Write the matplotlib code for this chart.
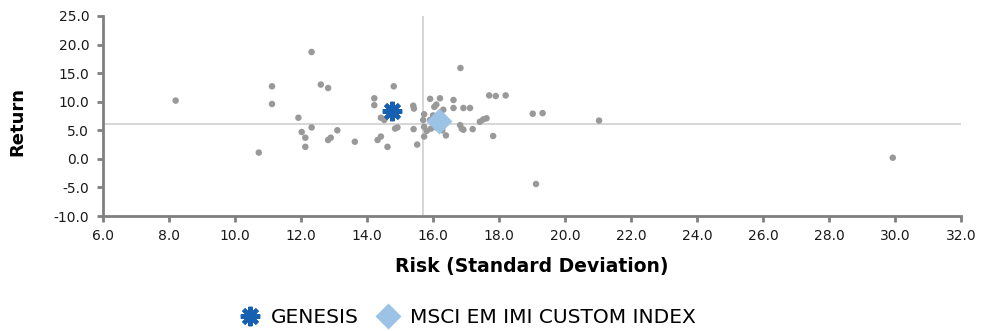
import matplotlib
matplotlib.use("Agg")
import matplotlib.pyplot as plt
from matplotlib.lines import Line2D

plt.rcParams['font.family'] = ['DejaVu Sans']

# Peer universe: risk (standard deviation) vs return
peer_risk = [8.2, 10.72, 11.12, 11.12, 11.92, 12.02, 12.13, 12.13, 12.32, 12.32,
             12.6, 12.82, 12.82, 12.9, 13.1, 13.63, 14.22, 14.22, 14.32, 14.42,
             14.62, 14.42, 14.52, 14.81, 14.85, 14.92, 15.4, 15.42, 15.41, 15.52,
             15.73, 15.7, 15.73, 15.73, 15.91, 16.21, 16.04, 16.1, 16.0, 15.91,
             16.31, 15.81, 15.94, 16.1, 16.28, 16.39, 16.62, 16.62, 16.92, 17.12,
             16.83, 17.7, 17.9, 18.2, 16.82, 16.87, 16.92, 17.2, 17.42, 17.52,
             17.62, 17.82, 19.02, 19.32, 21.03, 19.12, 29.93]
peer_return = [10.2, 1.1, 12.7, 9.6, 7.2, 4.7, 3.7, 2.1, 18.7, 5.5,
               13.0, 12.4, 3.3, 3.7, 5.0, 3.0, 10.6, 9.4, 3.3, 3.9,
               2.1, 7.2, 6.8, 12.7, 5.3, 5.5, 9.3, 8.8, 5.2, 2.5,
               7.8, 6.8, 5.6, 3.9, 10.5, 10.6, 9.1, 9.5, 7.6, 6.8,
               8.6, 4.9, 5.3, 5.5, 5.0, 4.1, 10.3, 8.9, 8.9, 8.9,
               15.9, 11.1, 11.0, 11.1, 5.9, 5.3, 5.1, 5.2, 6.5, 6.9,
               7.1, 4.0, 7.9, 8.0, 6.7, -4.4, 0.2]

fund_name = "GENESIS"
fund_risk, fund_return = 14.77, 8.3
index_name = "MSCI EM IMI CUSTOM INDEX"
index_risk, index_return = 16.19, 6.65

# Median cross-hair
median_risk = 15.7
median_return = 6.1

x_ticks = [6, 8, 10, 12, 14, 16, 18, 20, 22, 24, 26, 28, 30, 32]
y_ticks = [-10, -5, 0, 5, 10, 15, 20, 25]

fund_color = '#1560b0'
index_color = '#9cc3e6'
star = dict(linestyle='none', marker=(8, 2, 0), markersize=14,
            markeredgewidth=3.0, color=fund_color)
diamond = dict(linestyle='none', marker='D', markersize=13,
               color=index_color, markeredgecolor='none')

fig = plt.figure(figsize=(9.83, 3.31), dpi=100)
ax = fig.add_axes([0.1048, 0.3474, 0.8729, 0.6043])

spine_col = '#808080'
ax.axhline(median_return, color='#cfcfcf', lw=1.2, zorder=1)
ax.axvline(median_risk, color='#cfcfcf', lw=1.2, zorder=1)

ax.scatter(peer_risk, peer_return, s=22, color='#999999', edgecolors='none', zorder=2)

ax.plot([fund_risk], [fund_return], zorder=4, **star)
ax.plot([index_risk], [index_return], zorder=3, **diamond)

ax.set_xlim(6, 32)
ax.set_ylim(-10, 25)
ax.set_xticks(x_ticks)
ax.set_yticks(y_ticks)
ax.set_xticklabels([f"{v:.1f}" for v in x_ticks])
ax.set_yticklabels([f"{v:.1f}" for v in y_ticks])

for side in ('top', 'right'):
    ax.spines[side].set_visible(False)
for side in ('left', 'bottom'):
    ax.spines[side].set_color(spine_col)
    ax.spines[side].set_linewidth(2.0)
ax.tick_params(axis='both', colors=spine_col, width=2.0, length=4, labelsize=10,
               labelcolor='#1a1a1a')
ax.tick_params(axis='x', pad=5)
ax.tick_params(axis='y', pad=6)

ax.set_xlabel("Risk (Standard Deviation)", fontsize=13.5, fontweight='bold')
ax.xaxis.set_label_coords(0.5, -0.205)
ax.set_ylabel("Return", fontsize=13, fontweight='bold', va='center')
ax.yaxis.set_label_coords(-0.100, 0.474)

handles = [
    Line2D([], [], label=fund_name, **star),
    Line2D([], [], label=index_name, **diamond),
]
fig.legend(handles=handles, loc='center left', bbox_to_anchor=(0.233, 0.04),
           ncol=2, frameon=False, fontsize=14.5, handletextpad=0.5,
           columnspacing=0.9, handlelength=1.1, borderpad=0)

fig.savefig("out.png", dpi=100)
